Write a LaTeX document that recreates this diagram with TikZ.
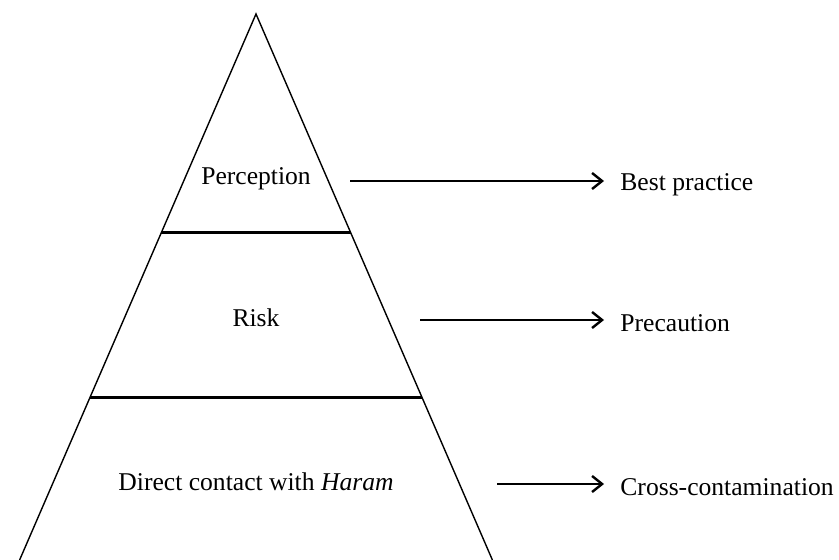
\documentclass[tikz,border=0pt]{standalone}
\usepackage{fontspec}
\setmainfont{Liberation Serif}
\usepackage{tikz}
\usetikzlibrary{arrows.meta, positioning, calc}

\begin{document}
\begin{tikzpicture}[
  x=0.5pt, y=-0.5pt,
  lvl/.style={font=\fontsize{12.8}{15}\selectfont},
  outcome/.style={anchor=west, inner sep=0pt, font=\fontsize{12.8}{15}\selectfont},
  flow/.style={-{Straight Barb[length=5pt, width=8pt]}, line width=1.2pt, shorten >=8pt},
  divider/.style={line width=1.5pt},
]
  \useasboundingbox (0,0) rectangle (839,560);

  % Pyramid
  \coordinate (apex) at (256,14);
  \coordinate (bl) at (19.6,560);
  \coordinate (br) at (492.4,560);
  \draw[line width=0.7pt] (bl) -- (apex) -- (br);

  % Layer borders
  \draw[divider] ($(apex)!0.401!(bl)$) -- ($(apex)!0.401!(br)$);
  \draw[divider] ($(apex)!0.7015!(bl)$) -- ($(apex)!0.7015!(br)$);

  % Layers
  \node[lvl] (perc) at (256,179) {Perception};
  \node[lvl] (risk) at (256,318) {Risk};
  \node[lvl] (haram) at (256,482) {Direct contact with \textit{Haram}};

  % Outcomes
  \node[outcome] (best) at (620,185) {Best practice};
  \node[outcome] (prec) at (620,323) {Precaution};
  \node[outcome] (cross) at (620,487) {Cross-contamination};

  \coordinate (s1) at (350,181);
  \coordinate (s2) at (420,320);
  \coordinate (s3) at (497,484);
  \draw[flow] (s1) -- (s1 -| best.west);
  \draw[flow] (s2) -- (s2 -| prec.west);
  \draw[flow] (s3) -- (s3 -| cross.west);
\end{tikzpicture}
\end{document}
